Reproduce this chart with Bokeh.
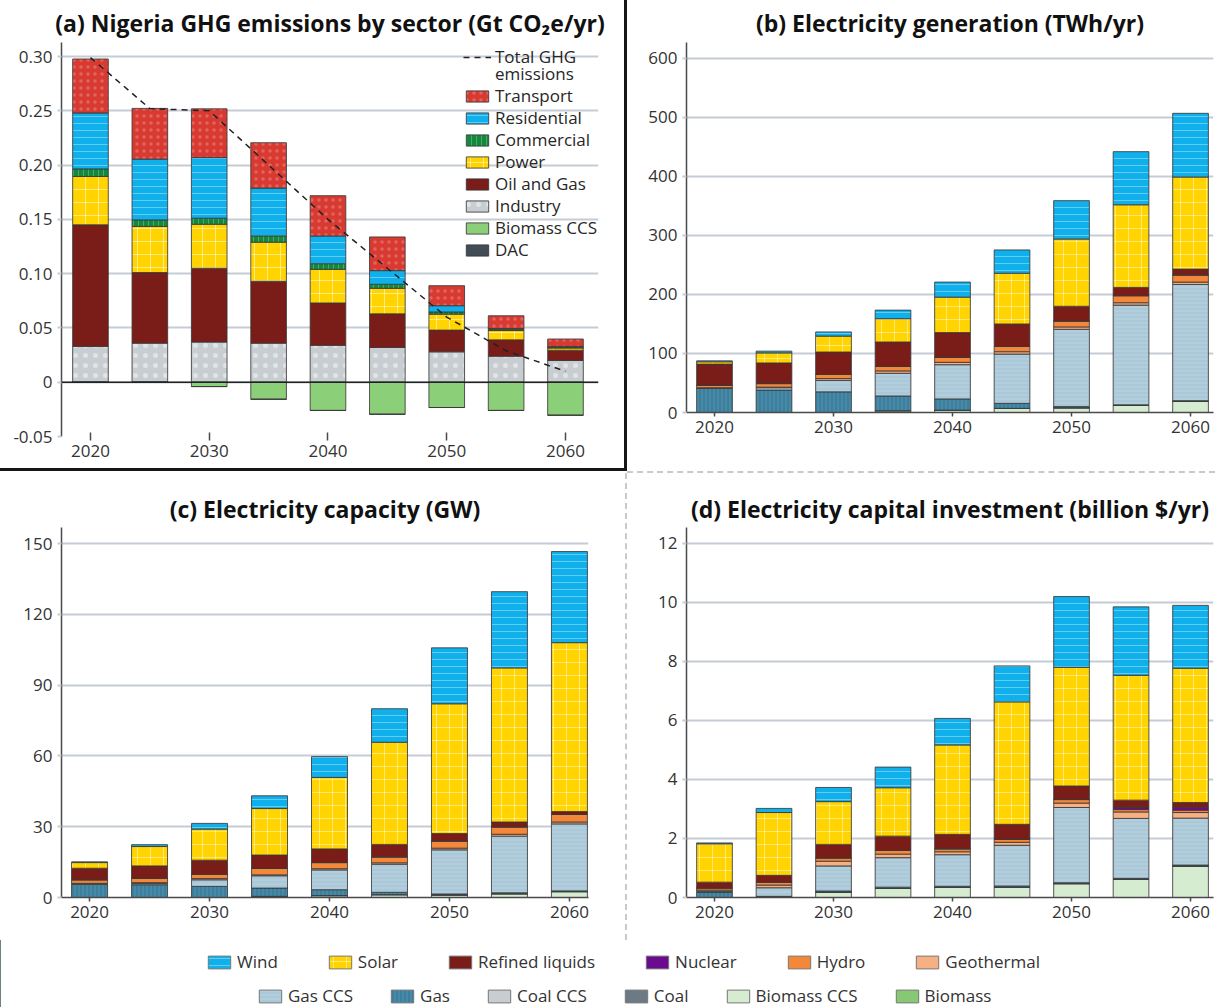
from bokeh.plotting import figure
from bokeh.models import (ColumnDataSource, FixedTicker, PrintfTickFormatter,
                          Range1d, Span, Legend, LegendItem)
from bokeh.layouts import row, column
from bokeh.embed import file_html
from bokeh.resources import INLINE

# ---------------- data ----------------
years = [2020, 2025, 2030, 2035, 2040, 2045, 2050, 2055, 2060]
year_ticks = [2020, 2030, 2040, 2050, 2060]

# (a) GHG emissions by sector, Gt CO2e/yr
ghg_industry = [0.033, 0.036, 0.037, 0.036, 0.034, 0.032, 0.028, 0.024, 0.020]
ghg_oil_gas = [0.112, 0.065, 0.068, 0.057, 0.039, 0.031, 0.020, 0.015, 0.0095]
ghg_power = [0.0445, 0.0425, 0.0405, 0.036, 0.031, 0.0235, 0.0147, 0.0086, 0.002]
ghg_commercial = [0.007, 0.006, 0.0056, 0.0058, 0.0052, 0.0037, 0.002, 0.0012, 0.001]
ghg_residential = [0.0515, 0.056, 0.0558, 0.044, 0.0255, 0.0126, 0.0058, 0.0006, 0.0005]
ghg_transport = [0.0497, 0.0467, 0.0449, 0.0418, 0.0371, 0.031, 0.0184, 0.0118, 0.0068]
ghg_biomass_ccs = [0.0, 0.0, -0.004, -0.0157, -0.026, -0.0295, -0.0233, -0.026, -0.0304]
ghg_dac = [0.0, 0.0, 0.0, 0.0, 0.0, 0.0, 0.0, 0.0, 0.0]
ghg_total = [0.299, 0.252, 0.250, 0.200, 0.150, 0.105, 0.060, 0.029, 0.010]
ghg_ticks = [-0.05, 0.0, 0.05, 0.10, 0.15, 0.20, 0.25, 0.30]

# (b) Electricity generation, TWh/yr
gen_biomass = [0, 0, 0, 0, 0, 0, 0, 0, 0]
gen_biomass_ccs = [0, 0, 0, 3, 4, 7, 8, 12, 19]
gen_coal = [0, 0, 0, 0, 0, 0, 0, 0, 0]
gen_coal_ccs = [0, 0, 0, 0, 0, 0, 0, 0, 0]
gen_gas = [41, 38, 35, 25, 19, 8.5, 2, 1, 1]
gen_gas_ccs = [0, 4, 19.5, 38.5, 58, 83.5, 131, 169, 197]
gen_geothermal = [1, 1, 3, 4, 4, 4, 4, 4, 4]
gen_hydro = [4, 6, 7, 7.5, 8.5, 9, 10, 12, 12]
gen_nuclear = [0, 0, 0, 0, 0, 0, 0, 0, 0]
gen_refined = [36, 35, 38, 41.5, 42, 38, 25, 14, 10]
gen_solar = [4, 17, 27, 39.5, 60, 86, 114, 140, 156]
gen_wind = [1.5, 3, 7, 14.5, 25.5, 39.5, 65, 90, 108]
gen_ticks = [0, 100, 200, 300, 400, 500, 600]

# (c) Electricity capacity, GW
cap_biomass = [0, 0, 0, 0, 0, 0, 0, 0, 0]
cap_biomass_ccs = [0, 0, 0, 0, 0.8, 1.2, 1.1, 1.6, 2.5]
cap_coal = [0, 0, 0, 0.5, 0, 0, 0, 0, 0]
cap_coal_ccs = [0, 0, 0, 0, 0, 0, 0, 0, 0]
cap_gas = [5.6, 5.4, 4.7, 3.5, 2.5, 1.0, 0.4, 0.4, 0.3]
cap_gas_ccs = [0, 0.5, 2.8, 5.2, 8.4, 11.9, 18.7, 24.0, 28.4]
cap_geothermal = [0.4, 0.4, 0.5, 0.4, 0.5, 0.6, 0.7, 0.8, 0.8]
cap_hydro = [1.5, 1.9, 1.9, 2.7, 2.6, 2.5, 3.0, 3.1, 3.2]
cap_nuclear = [0, 0, 0, 0, 0, 0, 0, 0, 0]
cap_refined = [4.9, 5.2, 5.9, 5.7, 5.8, 5.3, 3.2, 2.1, 1.2]
cap_solar = [2.4, 8.2, 13.2, 19.7, 30.3, 43.3, 55.0, 65.3, 71.6]
cap_wind = [0.3, 0.8, 2.4, 5.4, 8.8, 14.2, 23.7, 32.3, 38.6]
cap_ticks = [0, 30, 60, 90, 120, 150]

# (d) Electricity capital investment, billion $/yr
inv_biomass = [0, 0, 0, 0, 0, 0, 0, 0, 0]
inv_biomass_ccs = [0, 0, 0.18, 0.31, 0.34, 0.35, 0.47, 0.62, 1.07]
inv_coal = [0, 0.04, 0, 0, 0, 0, 0, 0, 0]
inv_coal_ccs = [0, 0, 0, 0, 0, 0, 0, 0, 0]
inv_gas = [0.17, 0, 0.04, 0.04, 0.04, 0.04, 0.03, 0.03, 0.03]
inv_gas_ccs = [0.03, 0.29, 0.85, 1.0, 1.07, 1.38, 2.55, 2.03, 1.59]
inv_geothermal = [0.05, 0.09, 0.16, 0.12, 0.10, 0.10, 0.15, 0.22, 0.19]
inv_hydro = [0.07, 0.10, 0.11, 0.13, 0.10, 0.10, 0.12, 0.08, 0.08]
inv_nuclear = [0, 0, 0, 0, 0, 0, 0, 0.07, 0.09]
inv_refined = [0.20, 0.23, 0.46, 0.48, 0.49, 0.51, 0.46, 0.25, 0.17]
inv_solar = [1.30, 2.13, 1.45, 1.64, 3.03, 4.15, 4.02, 4.23, 4.55]
inv_wind = [0.03, 0.14, 0.48, 0.70, 0.90, 1.22, 2.40, 2.32, 2.13]
inv_ticks = [0, 2, 4, 6, 8, 10, 12]

# stacking order, bottom to top
tech_order = ["Biomass", "Biomass CCS", "Coal", "Coal CCS", "Gas", "Gas CCS",
              "Geothermal", "Hydro", "Nuclear", "Refined liquids", "Solar", "Wind"]
legend_row1 = ["Wind", "Solar", "Refined liquids", "Nuclear", "Hydro", "Geothermal"]
legend_row2 = ["Gas CCS", "Gas", "Coal CCS", "Coal", "Biomass CCS", "Biomass"]
sector_legend = ["Transport", "Residential", "Commercial", "Power", "Oil and Gas",
                 "Industry", "Biomass CCS", "DAC"]
total_label = ["Total GHG", "emissions"]

# ---------------- styles ----------------
FONT = "Open Sans"
GRID = "#c5ccd3"
OUT = "#3a3a3a"
AXIS = "#4a4a4a"
TXT = "#333333"

tech_colors = {"Biomass": "#86c873", "Biomass CCS": "#d5ecd0", "Coal": "#6d7a86",
               "Coal CCS": "#c8cdd2", "Gas": "#3b7f9e", "Gas CCS": "#aac8d8",
               "Geothermal": "#f6b083", "Hydro": "#f3873a", "Nuclear": "#6a0a8e",
               "Refined liquids": "#7a1c17", "Solar": "#ffd400", "Wind": "#10b0ec"}
tech_hatch = {"Wind": ("horizontal_line", 0.35, 7), "Solar": ("cross", 0.45, 13),
              "Gas CCS": ("horizontal_line", 0.18, 4), "Gas": ("vertical_line", 0.15, 4)}

sector_colors = {"Industry": "#c8cdd1", "Oil and Gas": "#7a1c17", "Power": "#ffd400",
                 "Commercial": "#14883c", "Residential": "#10b0ec", "Transport": "#d83a32",
                 "Biomass CCS": "#8ccf79", "DAC": "#414c57"}
sector_hatch = {"Residential": ("horizontal_line", 0.35, 7), "Power": ("cross", 0.5, 13),
                "Transport": ("dot", 0.22, 7), "Industry": ("dot", 0.45, 10),
                "Commercial": ("vertical_line", 0.25, 5)}


def hatch_lists(names, table):
    pats, alphas, scales = [], [], []
    for n in names:
        pat, a, s = table.get(n, (" ", 0.0, 6))
        pats.append(pat)
        alphas.append(a)
        scales.append(s)
    return pats, alphas, scales


def make_fig(width, height, xr, yr, mb, title, yticks, styles, standoff, offset):
    left, right, top, bottom = mb
    p = figure(width=width, height=height, x_range=Range1d(*xr), y_range=Range1d(*yr),
               toolbar_location=None, output_backend="svg", title=title,
               min_border_left=left, min_border_right=right,
               min_border_top=top, min_border_bottom=bottom, styles=styles,
               frame_align=False)
    p.title.align = "center"
    p.title.text_font = FONT
    p.title.text_font_style = "bold"
    p.title.text_font_size = "23px"
    p.title.text_color = "#111111"
    p.title.standoff = standoff
    p.title.offset = offset
    p.outline_line_color = None
    p.background_fill_color = "white"
    p.xgrid.grid_line_color = None
    p.ygrid.grid_line_color = GRID
    p.ygrid.grid_line_width = 2
    p.ygrid.ticker = FixedTicker(ticks=yticks)
    p.yaxis.ticker = FixedTicker(ticks=yticks)
    p.yaxis.axis_line_color = AXIS
    p.yaxis.axis_line_width = 1.5
    p.yaxis.major_tick_in = 0
    p.yaxis.major_tick_out = 4
    p.yaxis.major_tick_line_color = GRID
    p.yaxis.major_tick_line_width = 2
    p.yaxis.minor_tick_line_color = None
    p.yaxis.major_label_standoff = 5
    p.xaxis.ticker = FixedTicker(ticks=year_ticks)
    p.xaxis.axis_line_color = AXIS
    p.xaxis.axis_line_width = 1.5
    p.xaxis.major_tick_in = 0
    p.xaxis.major_tick_out = 4
    p.xaxis.major_tick_line_color = AXIS
    p.xaxis.major_tick_line_width = 1.5
    p.xaxis.minor_tick_line_color = None
    p.xaxis.major_label_standoff = 4
    for ax in (p.xaxis, p.yaxis):
        ax.major_label_text_font = FONT
        ax.major_label_text_font_size = "17px"
        ax.major_label_text_color = TXT
    return p


def tech_stack(p, data):
    src = ColumnDataSource(dict(year=years, **data))
    pats, alphas, scales = hatch_lists(tech_order, tech_hatch)
    rs = p.vbar_stack(tech_order, x="year", width=3.0, source=src,
                      fill_color=[tech_colors[n] for n in tech_order],
                      line_color=OUT, line_width=1, line_alpha=0.85,
                      hatch_pattern=pats, hatch_alpha=alphas, hatch_scale=scales,
                      hatch_color="white", hatch_weight=1)
    return rs


def plain_legend(items, loc, spacing, orientation="vertical", glyph_height=14):
    return Legend(items=items, location=loc, orientation=orientation,
                  glyph_width=28, glyph_height=glyph_height, label_standoff=4,
                  spacing=spacing, padding=0, margin=0, border_line_color=None,
                  background_fill_alpha=0, label_text_font=FONT,
                  label_text_font_size="17px", label_text_color="#262626",
                  label_height=14)


# ---------------- panel (a) ----------------
pa = make_fig(627, 471, (2017.56, 2062.78), (-0.05, 0.3129), (61, 29, 42, 35),
              "(a) Nigeria GHG emissions by sector (Gt CO\u2082e/yr)", ghg_ticks,
              {"border-right": "3px solid #161616", "border-bottom": "3px solid #161616"},
              7, -8)
pa.yaxis.formatter = PrintfTickFormatter(format="%.2f")
pa.yaxis.major_label_overrides = {0: "0"}
pa.xaxis.axis_line_color = None
pa.xaxis.major_tick_in = 4
pa.xaxis.major_tick_out = 4

pos_sectors = ["Industry", "Oil and Gas", "Power", "Commercial", "Residential", "Transport"]
neg_sectors = ["Biomass CCS", "DAC"]
src_a = ColumnDataSource(dict(year=years, **{
    "Industry": ghg_industry, "Oil and Gas": ghg_oil_gas, "Power": ghg_power,
    "Commercial": ghg_commercial, "Residential": ghg_residential,
    "Transport": ghg_transport, "Biomass CCS": ghg_biomass_ccs, "DAC": ghg_dac}))
sector_r = {}
for group in (pos_sectors, neg_sectors):
    pats, alphas, scales = hatch_lists(group, sector_hatch)
    rs = pa.vbar_stack(group, x="year", width=3.0, source=src_a,
                       fill_color=[sector_colors[n] for n in group],
                       line_color=OUT, line_width=1, line_alpha=0.85,
                       hatch_pattern=pats, hatch_alpha=alphas, hatch_scale=scales,
                       hatch_color="white", hatch_weight=1)
    for n, r in zip(group, rs):
        sector_r[n] = r
pa.add_layout(Span(location=0, dimension="width", line_color="#222222", line_width=1.5))
total_r = pa.line(years, ghg_total, line_color="#222222", line_width=1.5, line_dash="6 5")
# invisible twin, only used to carry the second line of the legend label
total_twin = pa.line(years, ghg_total, line_alpha=0)

# one legend per entry so the rows can sit 22 px apart (17 px inside the two-line entry)
legend_a_entries = [(total_label[0], total_r), (total_label[1], total_twin)] + \
                   [(n, sector_r[n]) for n in sector_legend]
FRAME_H_A = 394          # frame height of panel (a) in pixels
row_top = 42             # page y of the frame top
centers = [57, 74] + [96 + 22 * i for i in range(len(sector_legend))]
for (label, rend), c in zip(legend_a_entries, centers):
    y_from_bottom = FRAME_H_A - (c - row_top) - 11
    pa.add_layout(plain_legend([LegendItem(label=label, renderers=[rend])],
                               (402, y_from_bottom), 0))

# ---------------- panel (b) ----------------
pb = make_fig(588, 473, (2017.647, 2061.93), (0, 627), (59, 2, 42, 61),
              "(b) Electricity generation (TWh/yr)", gen_ticks,
              {"border-bottom": "2px dashed #c9c9c9"}, 7, -4)
tech_stack(pb, {"Biomass": gen_biomass, "Biomass CCS": gen_biomass_ccs, "Coal": gen_coal,
                "Coal CCS": gen_coal_ccs, "Gas": gen_gas, "Gas CCS": gen_gas_ccs,
                "Geothermal": gen_geothermal, "Hydro": gen_hydro, "Nuclear": gen_nuclear,
                "Refined liquids": gen_refined, "Solar": gen_solar, "Wind": gen_wind})

# ---------------- panel (c) ----------------
pc = make_fig(627, 467, (2017.66, 2061.59), (0, 156.8), (61, 39, 54, 43),
              "(c) Electricity capacity (GW)", cap_ticks,
              {"border-right": "2px dashed #c9c9c9"}, 6, -2)
tech_stack(pc, {"Biomass": cap_biomass, "Biomass CCS": cap_biomass_ccs, "Coal": cap_coal,
                "Coal CCS": cap_coal_ccs, "Gas": cap_gas, "Gas CCS": cap_gas_ccs,
                "Geothermal": cap_geothermal, "Hydro": cap_hydro, "Nuclear": cap_nuclear,
                "Refined liquids": cap_refined, "Solar": cap_solar, "Wind": cap_wind})

# ---------------- panel (d) ----------------
pd_ = make_fig(588, 467, (2017.647, 2061.93), (0, 12.54), (59, 2, 54, 43),
               "(d) Electricity capital investment (billion $/yr)", inv_ticks, {}, 6, -3)
tech_stack(pd_, {"Biomass": inv_biomass, "Biomass CCS": inv_biomass_ccs, "Coal": inv_coal,
                 "Coal CCS": inv_coal_ccs, "Gas": inv_gas, "Gas CCS": inv_gas_ccs,
                 "Geothermal": inv_geothermal, "Hydro": inv_hydro, "Nuclear": inv_nuclear,
                 "Refined liquids": inv_refined, "Solar": inv_solar, "Wind": inv_wind})

# ---------------- shared legend ----------------
pl = figure(width=1215, height=67, x_range=Range1d(0, 1), y_range=Range1d(0, 1),
            toolbar_location=None, output_backend="svg", min_border=0, frame_align=False)
pl.axis.visible = False
pl.grid.grid_line_color = None
pl.outline_line_color = None
proxy = {}
for n in tech_order:
    pat, a, s = tech_hatch.get(n, (" ", 0.0, 6))
    proxy[n] = pl.vbar(x=[-5], top=[1], width=0.1, fill_color=tech_colors[n],
                       line_color="#777777", line_width=1, hatch_pattern=pat,
                       hatch_alpha=a, hatch_scale=s, hatch_color="white")

leg1 = plain_legend([LegendItem(label=n, renderers=[proxy[n]]) for n in legend_row1],
                    (205, 34), 48, "horizontal", 16)
leg2 = plain_legend([LegendItem(label=n, renderers=[proxy[n]]) for n in legend_row2],
                    (256, 0), 35, "horizontal", 16)
leg1.label_text_color = "#333333"
leg2.label_text_color = "#333333"
pl.add_layout(leg1)
pl.add_layout(leg2)

layout = column(row(pa, pb), row(pc, pd_), pl)
open("out.html", "w").write(file_html(layout, INLINE))
